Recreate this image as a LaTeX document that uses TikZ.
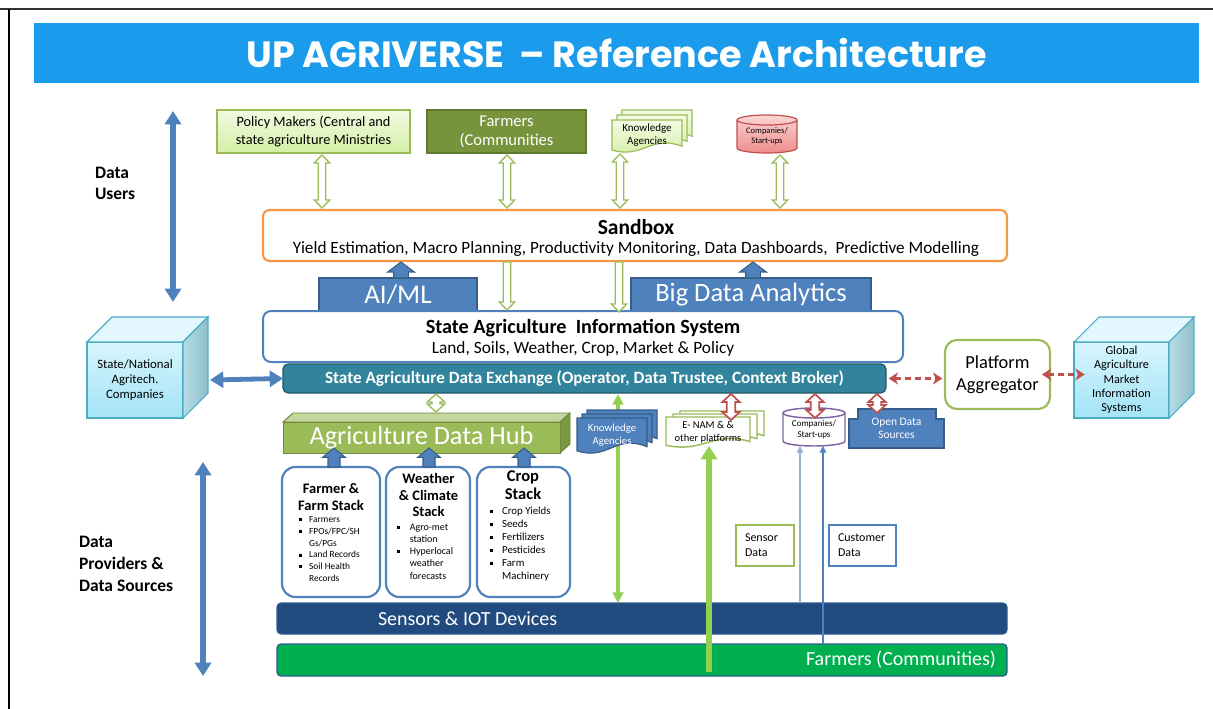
\documentclass[tikz,border=0pt]{standalone}
\usepackage{fontspec}
\setmainfont{Carlito}
\newfontfamily\titlefont{Poppins}
\usetikzlibrary{arrows.meta,calc}
\definecolor{titleBlue}{HTML}{1A9BEC}
\definecolor{gB}{HTML}{9BBB59}
\definecolor{lgT}{HTML}{F3FBE3}
\definecolor{lgB}{HTML}{D3EEA3}
\definecolor{dgF}{HTML}{77933C}
\definecolor{dgB}{HTML}{5E7A2E}
\definecolor{rT}{HTML}{FBD5D5}
\definecolor{rB}{HTML}{EE8C8C}
\definecolor{rD}{HTML}{C0504D}
\definecolor{orangeB}{HTML}{F79646}
\definecolor{bF}{HTML}{4F81BD}
\definecolor{bB}{HTML}{385D8A}
\definecolor{tealF}{HTML}{31849B}
\definecolor{tealB}{HTML}{215968}
\definecolor{cyT}{HTML}{D7F5FD}
\definecolor{cyB}{HTML}{A3E3F6}
\definecolor{cyD}{HTML}{4BACC6}
\definecolor{cyTop}{HTML}{E2F8FE}
\definecolor{grL}{HTML}{B8DCE5}
\definecolor{grR}{HTML}{8EBFCB}
\definecolor{adhF}{HTML}{9BBB59}
\definecolor{adhTop}{HTML}{C3D69B}
\definecolor{adhR}{HTML}{7A9A3F}
\definecolor{adhB}{HTML}{71893F}
\definecolor{lime}{HTML}{92D050}
\definecolor{purp}{HTML}{8064A2}
\definecolor{sensF}{HTML}{214A7E}
\definecolor{sensB}{HTML}{2C5C8F}
\definecolor{farmF}{HTML}{00B050}
\definecolor{thinLB}{HTML}{95B3D7}
\newcommand{\fz}[2]{\fontsize{\fpeval{#1*0.75}}{\fpeval{#2*0.75}}\selectfont}
\newcommand{\bx}[7]{\node[#6, minimum width={(#4-#2)*0.75pt}, minimum height={(#5-#3)*0.75pt}] (#1) at ({(#2+#4)/2},{(#3+#5)/2}) {#7};}
\newcommand{\adims}[3]{\def\aS{#1}\def\aH{#2}\def\aL{#3}}
\newcommand{\vdbl}[4]{\draw[#1] let \p1=(#3), \p2=(#4) in
 ({#2*0.75pt},\y1) -- ({#2*0.75pt+\aH},{\y1-\aL}) -- ({#2*0.75pt+\aS},{\y1-\aL}) -- ({#2*0.75pt+\aS},{\y2+\aL}) -- ({#2*0.75pt+\aH},{\y2+\aL}) -- ({#2*0.75pt},\y2) -- ({#2*0.75pt-\aH},{\y2+\aL}) -- ({#2*0.75pt-\aS},{\y2+\aL}) -- ({#2*0.75pt-\aS},{\y1-\aL}) -- ({#2*0.75pt-\aH},{\y1-\aL}) -- cycle;}
\newcommand{\vdown}[4]{\draw[#1] let \p1=(#3), \p2=(#4) in
 ({#2*0.75pt-\aS},\y1) -- ({#2*0.75pt+\aS},\y1) -- ({#2*0.75pt+\aS},{\y2+\aL}) -- ({#2*0.75pt+\aH},{\y2+\aL}) -- ({#2*0.75pt},\y2) -- ({#2*0.75pt-\aH},{\y2+\aL}) -- ({#2*0.75pt-\aS},{\y2+\aL}) -- cycle;}
\newcommand{\vup}[4]{\draw[#1] let \p1=(#3), \p2=(#4) in
 ({#2*0.75pt-\aS},\y2) -- ({#2*0.75pt+\aS},\y2) -- ({#2*0.75pt+\aS},{\y1-\aL}) -- ({#2*0.75pt+\aH},{\y1-\aL}) -- ({#2*0.75pt},\y1) -- ({#2*0.75pt-\aH},{\y1-\aL}) -- ({#2*0.75pt-\aS},{\y1-\aL}) -- cycle;}
\newcommand{\docshape}[5]{\draw[#1] ({#2},{#3}) -- ({#4},{#3}) -- ({#4},{(#5)-0.18*((#5)-(#3))}) .. controls ({(#2)+0.55*((#4)-(#2))},{(#5)-0.55*((#5)-(#3))}) and ({(#2)+0.45*((#4)-(#2))},{(#5)+0.22*((#5)-(#3))}) .. ({#2},{(#5)-0.06*((#5)-(#3))}) -- cycle;}
\newcommand{\multidoc}[7]{\docshape{#1}{(#2)+2*(#6)}{(#3)-2*(#7)}{(#4)+2*(#6)}{(#5)-2*(#7)}\docshape{#1}{(#2)+(#6)}{(#3)-(#7)}{(#4)+(#6)}{(#5)-(#7)}\docshape{#1}{#2}{#3}{#4}{#5}}
\newcommand{\cyl}[7]{\path[#1] (#3,#5) -- (#3,#6) arc[start angle=180, end angle=360, x radius={(#4-#3)*0.375pt}, y radius={#7*0.75pt}] -- (#4,#5) arc[start angle=0, end angle=180, x radius={(#4-#3)*0.375pt}, y radius={#7*0.75pt}] -- cycle;
 \draw[#2] (#3,#5) arc[start angle=180, end angle=360, x radius={(#4-#3)*0.375pt}, y radius={#7*0.75pt}];}
\newcommand{\cube}[5]{\shadedraw[top color=cyT, bottom color=cyB, draw=cyD, line width=0.8pt] (#1,#2) rectangle (#3,#4);
 \filldraw[fill=cyTop, draw=cyD, line width=0.8pt] (#1,#2) -- ({#1+#5},{#2-#5}) -- ({#3+#5},{#2-#5}) -- (#3,#2) -- cycle;
 \shadedraw[left color=grL, right color=grR, draw=cyD, line width=0.8pt] (#3,#2) -- ({#3+#5},{#2-#5}) -- ({#3+#5},{#4-#5}) -- (#3,#4) -- cycle;}
\newcommand{\blt}{\rule[0.28ex]{2.3pt}{2.3pt}}
\tikzset{
 every node/.style={inner sep=0pt, outer sep=0pt, align=center},
 lgbox/.style={draw=gB, line width=1.1pt, top color=lgT, bottom color=lgB},
 dgbox/.style={draw=dgB, line width=1.1pt, fill=dgF, text=white},
 bluebox/.style={draw=bB, line width=0.9pt, fill=bF, text=white},
 hollowG/.style={draw=gB, line width=1pt, fill=white},
 hollowR/.style={draw=rD, line width=1.3pt, fill=white},
 blockB/.style={draw=bB, line width=0.8pt, fill=bF},
 stackbox/.style={draw=bF, line width=1.6pt, rounded corners=10pt, fill=white},
 axisarrow/.style={draw=bF, line width=4.5pt, {Triangle[width=12pt,length=10pt]}-{Triangle[width=12pt,length=10pt]}},
 sidearrow/.style={draw=bF, line width=3.6pt, {Triangle[width=12pt,length=10pt]}-{Triangle[width=12pt,length=10pt]}},
 reddash/.style={draw=rD, line width=1.9pt, dash pattern=on 4.5pt off 3pt, {Stealth[width=9pt,length=7pt,inset=2pt]}-{Stealth[width=9pt,length=7pt,inset=2pt]}},
}
\begin{document}
\begin{tikzpicture}[x=0.75pt,y=-0.75pt]
\useasboundingbox (0,0) rectangle (1213,709);
\fill[white] (0,0) rectangle (1213,709);
% frame
\draw[line width=1.5pt, black!80] (0,9) -- (1213,9);
\draw[line width=1.5pt, black] (9,9) -- (9,709);
% title
\bx{title}{34}{23}{1199}{83}{fill=titleBlue, text=white, font={\titlefont\bfseries\fz{36.5}{40}}}{UP AGRIVERSE\ \ – Reference Architecture}
% side labels and axis arrows
\node[anchor=west, align=left, font={\bfseries\fz{17.5}{21.5}}] (dusers) at (95,183.5) {Data\\Users};
\coordinate (du1) at (173,111); \coordinate (du2) at (173,302);
\draw[axisarrow] (du1) -- (du2);
\node[anchor=west, align=left, font={\bfseries\fz{17.5}{22}}] (dprov) at (79,564) {Data\\Providers \&\\Data Sources};
\coordinate (dp1) at (203,462); \coordinate (dp2) at (203,676);
\draw[axisarrow] (dp1) -- (dp2);
% top row
\bx{policy}{217}{110}{410}{153}{lgbox, font={\fz{14.3}{17.5}}}{Policy Makers (Central and\\state agriculture Ministries}
\bx{farmtop}{427}{110}{586}{153}{dgbox, font={\fz{16.5}{19}}}{Farmers\\(Communities}
\multidoc{draw=gB, line width=0.9pt, top color=lgT, bottom color=lgB}{612}{120}{682}{152}{5}{5}
\bx{ktop}{612}{120}{682}{150}{font={\fz{11}{13.5}}}{Knowledge\\Agencies}
\cyl{draw=rD, line width=0.9pt, top color=rT, bottom color=rB}{draw=rD, line width=0.9pt}{737}{797}{120}{148}{5}
\bx{ctop}{737}{120}{797}{153}{font={\fz{8.5}{10}}}{Companies/\\Start-ups}
% sandbox
\bx{sandbox}{263}{210}{1007}{261}{draw=orangeB, line width=1.6pt, rounded corners=5pt, fill=white}{}
\node[font={\bfseries\fz{21.5}{24}}] (sbt) at (636,227) {Sandbox};
\node[font={\fz{17.2}{19}}] (sbs) at (636,249) {Yield Estimation, Macro Planning, Productivity Monitoring, Data Dashboards,\ \ Predictive Modelling};
\adims{2.8pt}{5.8pt}{6pt}
\vdbl{hollowG}{322}{$(policy.south)+(0,2)$}{$(sandbox.north)+(0,-2)$}
\vdbl{hollowG}{507}{$(farmtop.south)+(0,2)$}{$(sandbox.north)+(0,-2)$}
\vdbl{hollowG}{620}{$(ktop.south)+(0,4)$}{$(sandbox.north)+(0,-2)$}
\vdbl{hollowG}{780}{$(ctop.south)+(0,2)$}{$(sandbox.north)+(0,-2)$}
% AI/ML and Big Data
\bx{aiml}{319}{278}{477}{311}{bluebox, font={\fz{27}{30}}}{AI/ML}
\bx{bda}{631}{278}{871}{311}{bluebox, font={\fz{26.5}{30}}}{Big Data Analytics}
\adims{5.5pt}{10pt}{7.5pt}
\vup{blockB}{401}{$(sandbox.south)+(0,1)$}{aiml.north}
\vup{blockB}{753}{$(sandbox.south)+(0,1)$}{bda.north}
% SAIS
\bx{sais}{263}{311}{903}{362}{draw=bF, line width=1.5pt, rounded corners=6pt, fill=white}{}
\node[font={\bfseries\fz{20.2}{22}}] (saist) at (583,328) {State Agriculture\ \ Information System};
\node[font={\fz{17.3}{19}}] (saiss) at (583,349) {Land, Soils, Weather, Crop, Market \& Policy};
\adims{2.8pt}{5.8pt}{6pt}
\vdown{hollowG}{507}{$(sandbox.south)+(0,1)$}{$(sais.north)+(0,-1)$}
\vdown{hollowG}{619}{$(sandbox.south)+(0,1)$}{$(sais.north)+(0,1)$}
% SADE
\bx{sade}{283}{364}{886}{393}{draw=tealB, line width=1pt, fill=tealF, rounded corners=4pt, text=white, font={\bfseries\fz{17.2}{19}}}{State Agriculture Data Exchange (Operator, Data Trustee, Context Broker)}
% left cube
\cube{87}{342}{183}{418}{25}
\bx{cubeL}{87}{342}{183}{418}{font={\fz{12.8}{15}}}{State/National\\Agritech.\\Companies}
\draw[sidearrow] ($(cubeL.east)+(27,0)$) -- (sade.west);
% platform aggregator and global cube
\bx{platform}{945}{340}{1050}{409}{draw=gB, line width=1.6pt, rounded corners=9pt, fill=white, font={\fz{18.4}{22}}}{Platform\\Aggregator}
\cube{1074}{342}{1169}{418}{25}
\bx{cubeG}{1074}{342}{1169}{418}{font={\fz{12.2}{14.3}}}{Global\\Agriculture\\Market\\Information\\Systems}
\draw[reddash, shorten <=2pt, shorten >=2pt] (sade.east) -- (sade.east -| platform.west);
\draw[reddash, shorten <=-6pt, shorten >=-8pt] (platform.east) -- (platform.east -| cubeG.west);
% Agriculture Data Hub
\filldraw[fill=adhTop, draw=adhB, line width=0.7pt] (283,422) -- (293,413) -- (570,413) -- (560,422) -- cycle;
\filldraw[fill=adhR, draw=adhB, line width=0.7pt] (560,422) -- (570,413) -- (570,444) -- (560,453) -- cycle;
\bx{adh}{283}{422}{560}{453}{fill=adhF, draw=adhB, line width=0.7pt, text=white, font={\fz{26.3}{28}}}{Agriculture Data Hub}
\adims{3pt}{6.5pt}{6pt}
\vdbl{hollowG}{436}{$(sade.south)+(0,1)$}{$(adh.north)+(0,-10)$}
% stacks
\bx{fstack}{282}{467}{380}{597}{stackbox}{}
\bx{wstack}{386}{467}{470}{597}{stackbox}{}
\bx{cstack}{477}{467}{570}{597}{stackbox}{}
\node[font={\bfseries\fz{14.5}{17}}] (fsh) at (331,497) {Farmer \&\\Farm Stack};
\node[anchor=west, align=left, font={\fz{9.4}{11.7}}] (fsl) at (299,549) {\blt\hspace{5.3pt}Farmers\\\blt\hspace{5.3pt}FPOs/FPC/SH\\\hspace*{7.6pt}Gs/PGs\\\blt\hspace{5.3pt}Land Records\\\blt\hspace{5.3pt}Soil Health\\\hspace*{7.6pt}Records};
\node[font={\bfseries\fz{14.5}{16.8}}] (wsh) at (428.5,495) {Weather\\\& Climate\\Stack};
\node[anchor=west, align=left, font={\fz{10}{12.3}}] (wsl) at (397,551.5) {\blt\hspace{7.3pt}Agro-met\\\hspace*{9.6pt}station\\\blt\hspace{7.3pt}Hyperlocal\\\hspace*{9.6pt}weather\\\hspace*{9.6pt}forecasts};
\node[font={\bfseries\fz{16.5}{18}}] (csh) at (523,485) {Crop\\Stack};
\node[anchor=west, align=left, font={\fz{10.8}{13}}] (csl) at (490,544) {\blt\hspace{6.8pt}Crop Yields\\\blt\hspace{6.8pt}Seeds\\\blt\hspace{6.8pt}Fertilizers\\\blt\hspace{6.8pt}Pesticides\\\blt\hspace{6.8pt}Farm\\\hspace*{9.1pt}Machinery};
\adims{4.5pt}{8.5pt}{7pt}
\vup{blockB}{334}{$(adh.south)+(0,-5)$}{fstack.north}
\vup{blockB}{429}{$(adh.south)+(0,-5)$}{wstack.north}
\vup{blockB}{524}{$(adh.south)+(0,-5)$}{cstack.north}
% bottom bars
\bx{sensors}{277}{603}{1007}{634}{fill=sensF, draw=sensB, line width=0.8pt, rounded corners=3pt}{}
\node[anchor=west, text=white, font={\fz{20}{22}}] (senst) at (378,618.5) {Sensors \& IOT Devices};
\bx{farmbar}{277}{644}{1007}{676}{fill=farmF, draw=sensB, line width=1pt, rounded corners=3pt}{}
\node[anchor=east, text=white, font={\fz{20}{22}}] (farmt) at (996,660) {Farmers (Communities)};
% green line from SADE to sensors
\coordinate (xg1) at (618,0);
\draw[draw=lime, line width=2.3pt, {Triangle[width=8pt,length=8pt]}-{Triangle[width=8pt,length=8pt]}] ($(sade.south -| xg1)+(0,1)$) -- (sensors.north -| xg1);
% knowledge agencies (lower)
\multidoc{draw=bB, line width=0.9pt, fill=bF}{577}{418}{647}{453}{5}{4}
\bx{klow}{577}{420}{647}{450}{text=white, font={\fz{10.8}{13}}}{Knowledge\\Agencies}
% E-NAM
\multidoc{draw=gB, line width=1.1pt, fill=white}{666}{417}{750}{447}{7}{3}
\bx{enam}{666}{419}{750}{446}{font={\fz{10.5}{13}}}{E- NAM \& \&\\other platforms}
% companies (lower)
\cyl{draw=purp, line width=1.1pt, fill=white}{draw=purp, line width=1.1pt}{783}{845}{413}{441}{5}
\bx{clow}{783}{413}{845}{446}{font={\fz{9}{10.5}}}{Companies/\\Start-ups}
% open data sources
\filldraw[fill=bF, draw=bB, line width=0.9pt] (849,419) -- (858,419) -- (858,409) -- (936,409) -- (936,419) -- (944,419) -- (944,448) -- (849,448) -- cycle;
\bx{odata}{849}{409}{944}{448}{text=white, font={\fz{11.5}{13}}}{Open Data\\Sources}
% red hollow arrows
\adims{3.2pt}{6.5pt}{6pt}
\vdbl{hollowR}{731}{$(sade.south)+(0,1)$}{$(enam.north)+(0,1)$}
\vdbl{hollowR}{815}{$(sade.south)+(0,1)$}{$(clow.north)+(0,5)$}
\vdbl{hollowR}{877}{$(sade.south)+(0,1)$}{$(odata.north)+(0,4)$}
% sensor / customer data
\bx{sdata}{736}{525}{794}{566}{draw=gB, line width=1.3pt, fill=white}{}
\node[anchor=west, align=left, font={\fz{12}{15}}] (sdt) at (745,545.5) {Sensor\\Data};
\bx{cdata}{829}{525}{896}{566}{draw=bF, line width=1.3pt, fill=white}{}
\node[anchor=west, align=left, font={\fz{12}{15}}] (cdt) at (838,545.5) {Customer\\Data};
% thin arrows to companies
\coordinate (xb1) at (800,0);
\coordinate (xb2) at (823,0);
\draw[draw=thinLB, line width=0.8pt, -{Triangle[width=5pt,length=5pt]}] (sensors.north -| xb1) -- (clow.south -| xb1);
\draw[draw=bF, line width=0.8pt, -{Triangle[width=5pt,length=5pt]}] (farmbar.north -| xb2) -- (clow.south -| xb2);
% thick green arrow to E-NAM
\coordinate (xg2) at (709,672);
\draw[draw=lime, line width=4.5pt, -{Triangle[width=12pt,length=10pt]}] (xg2) -- (enam.south -| xg2);
\end{tikzpicture}
\end{document}
